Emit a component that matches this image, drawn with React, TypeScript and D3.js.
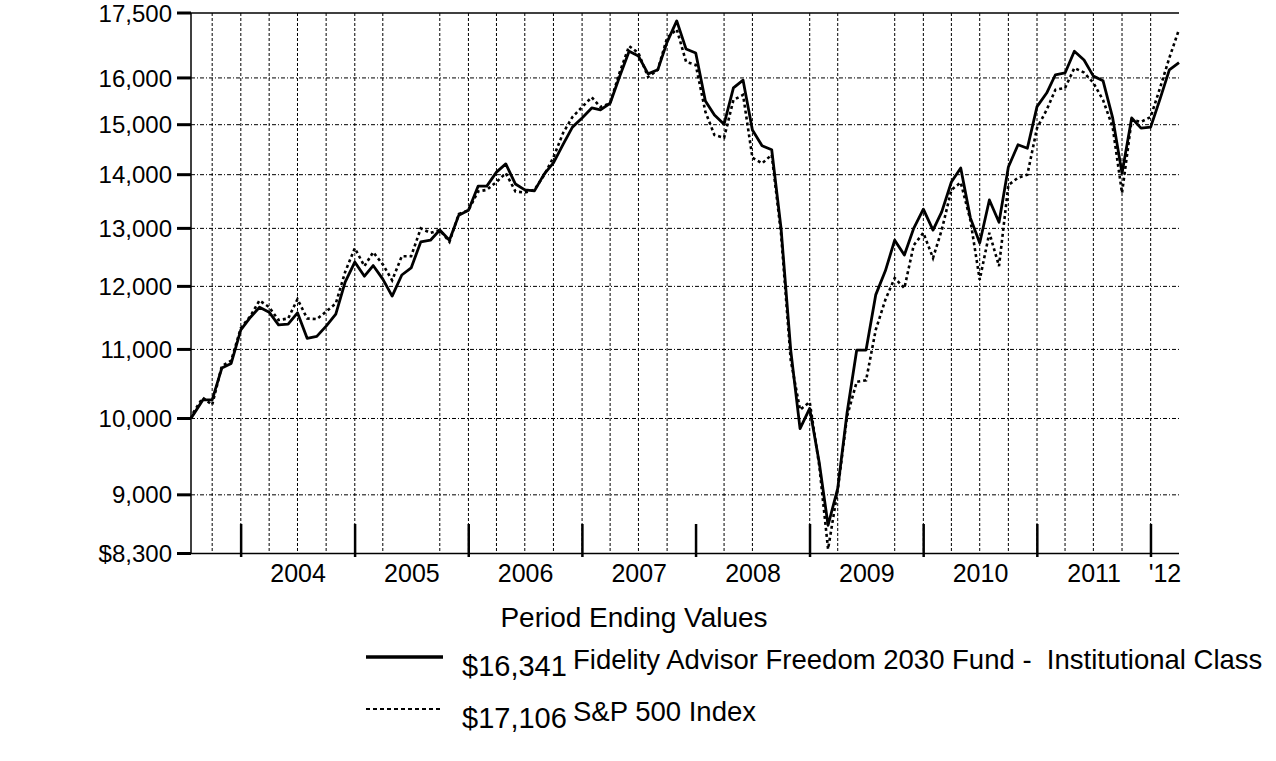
import React from "react";
import * as d3 from "d3";

// first point is the fund's start (Jul 24, 2003), then every month end to Mar 2012
const startDate = new Date(2003, 6, 24);
const periodEnds = [
  startDate,
  ...d3.timeMonth
    .range(new Date(2003, 7, 1), new Date(2012, 3, 2))
    .map((d) => d3.timeDay.offset(d, -1)),
];

const fundValues = [
  10000, 10050, 10260, 10260, 10720, 10790, 11300,
  11500, 11660, 11580, 11380, 11390, 11570, 11170, 11200, 11360, 11550, 12070, 12410,
  12170, 12350, 12120, 11840, 12190, 12310, 12760, 12790, 12970, 12790, 13240, 13330,
  13780, 13780, 14050, 14210, 13820, 13710, 13690, 14010, 14230, 14600, 14950, 15140,
  15350, 15310, 15450, 16020, 16600, 16490, 16090, 16180, 16810, 17310, 16650, 16560,
  15500, 15200, 15010, 15780, 15950, 14890, 14570, 14490, 13000, 10990, 9860, 10140,
  9400, 8630, 9080, 10080, 10990, 10990, 11860, 12260, 12790, 12530, 13000, 13350,
  12970, 13300, 13860, 14130, 13190, 12740, 13520, 13110, 14150, 14590, 14520, 15380,
  15670, 16070, 16110, 16600, 16400, 16040, 15940, 15140, 14030, 15140, 14930, 14950,
  15560, 16180, 16341,
];

const spxValues = [
  10000, 10080, 10290, 10190, 10750, 10830, 11330,
  11520, 11770, 11660, 11455, 11480, 11790, 11480, 11470, 11590, 11720, 12240, 12650,
  12340, 12580, 12370, 12100, 12510, 12510, 13000, 12920, 12970, 12760, 13260, 13330,
  13680, 13710, 13860, 14030, 13680, 13660, 13710, 13990, 14340, 14830, 15160, 15370,
  15580, 15370, 15450, 16110, 16720, 16560, 16020, 16180, 16910, 17110, 16360, 16290,
  15270, 14790, 14730, 15520, 15630, 14330, 14220, 14390, 12900, 10840, 10120, 10230,
  9360, 8350, 9060, 10030, 10520, 10540, 11300, 11780, 12140, 11970, 12700, 12920,
  12480, 12970, 13710, 13850, 13150, 12110, 12920, 12340, 13800, 13940, 14000, 14930,
  15310, 15740, 15780, 16220, 16120, 15890, 15520, 14950, 13650, 15100, 15060, 15160,
  15800, 16450, 17106,
];

const yTicks = [8300, 9000, 10000, 11000, 12000, 13000, 14000, 15000, 16000, 17500];
const yearLabels = ["2004", "2005", "2006", "2007", "2008", "2009", "2010", "2011", "'12"];

// quarter-end grid lines as they appear (a few are absent in the original)
const skippedGrid = ["2005-06", "2007-12", "2008-09", "2009-06"];

const legendItems = [
  { value: "$16,341", label: "Fidelity Advisor Freedom 2030 Fund -  Institutional Class", dashed: false },
  { value: "$17,106", label: "S&P 500 Index", dashed: true },
];

const font = "'Liberation Sans', Arial, sans-serif";

export default function App() {
  const width = 1276;
  const height = 761;
  const left = 191;
  const right = 1179;
  const top = 13;
  const bottom = 553.5;
  const endDate = new Date(2012, 2, 31);

  const x = d3.scaleTime().domain([startDate, endDate]).range([left, right]);
  const y = d3.scaleLog().domain([8300, 17500]).range([bottom, top]);

  const fmt = d3.format(",");

  const quarterEnds = d3.timeMonth
    .range(new Date(2003, 9, 1), new Date(2012, 0, 2), 3)
    .map((d) => d3.timeDay.offset(d, -1))
    .filter((d) => !skippedGrid.includes(d3.timeFormat("%Y-%m")(d)));

  const yearStarts = d3.timeYear.range(new Date(2004, 0, 1), new Date(2012, 0, 2));

  const line = d3
    .line<number>()
    .x((_, i) => x(periodEnds[i]))
    .y((d) => y(d));

  return (
    <svg
      width={width}
      height={height}
      style={{ position: "absolute", left: 0, top: 0, background: "#fff" }}
      fontFamily={font}
    >
      {/* horizontal grid */}
      {yTicks
        .filter((t) => t !== 8300 && t !== 17500)
        .map((t) => (
          <line
            key={"h" + t}
            x1={left}
            x2={right}
            y1={y(t)}
            y2={y(t)}
            stroke="#000"
            strokeWidth={1}
            strokeDasharray="4,2,1,2"
          />
        ))}
      {/* vertical grid */}
      {quarterEnds.map((d, i) => (
        <line
          key={"v" + i}
          x1={x(d)}
          x2={x(d)}
          y1={top}
          y2={bottom}
          stroke="#000"
          strokeWidth={1}
          strokeDasharray="3,2"
        />
      ))}

      {/* frame */}
      <line x1={left} x2={right} y1={top} y2={top} stroke="#000" strokeWidth={1.5} />
      <line x1={left} x2={right} y1={bottom} y2={bottom} stroke="#000" strokeWidth={1.5} />
      <line x1={left} x2={left} y1={top} y2={bottom} stroke="#000" strokeWidth={1.5} />

      {/* y axis */}
      {yTicks.map((t) => (
        <g key={"y" + t}>
          <line x1={177} x2={left} y1={y(t)} y2={y(t)} stroke="#000" strokeWidth={3} />
          <text
            x={172}
            y={y(t)}
            dy="0.36em"
            textAnchor="end"
            fontSize={24}
            fill="#000"
          >
            {t === 8300 ? "$" + fmt(t) : fmt(t)}
          </text>
        </g>
      ))}

      {/* x axis year ticks and labels */}
      {yearStarts.map((d) => (
        <line
          key={"t" + d.getFullYear()}
          x1={x(d)}
          x2={x(d)}
          y1={524}
          y2={557}
          stroke="#000"
          strokeWidth={2.5}
        />
      ))}
      {yearLabels.map((lab, i) => {
        const a = x(new Date(2004 + i, 0, 1));
        const b = Math.min(right, x(new Date(2005 + i, 0, 1)));
        return (
          <text
            key={"l" + lab}
            x={(a + b) / 2}
            y={582}
            textAnchor="middle"
            fontSize={25}
            fill="#000"
          >
            {lab}
          </text>
        );
      })}

      {/* series */}
      <path
        d={line(spxValues) || ""}
        fill="none"
        stroke="#000"
        strokeWidth={2.6}
        strokeDasharray="3,3"
      />
      <path d={line(fundValues) || ""} fill="none" stroke="#000" strokeWidth={2.8} strokeLinejoin="round" />

      {/* legend */}
      <text x={634} y={627} textAnchor="middle" fontSize={28} fill="#000">
        Period Ending Values
      </text>
      {legendItems.map((item, i) => {
        const cy = 657 + i * 52;
        return (
          <g key={item.label}>
            <line
              x1={366}
              x2={443}
              y1={cy}
              y2={cy}
              stroke="#000"
              strokeWidth={item.dashed ? 2 : 3.5}
              strokeDasharray={item.dashed ? "4,3" : undefined}
            />
            <text x={462} y={cy + 19} fontSize={29} fill="#000">
              {item.value}
            </text>
            <text x={573} y={cy + 12} fontSize={27.5} fill="#000" style={{ whiteSpace: "pre" }}>
              {item.label}
            </text>
          </g>
        );
      })}
    </svg>
  );
}
